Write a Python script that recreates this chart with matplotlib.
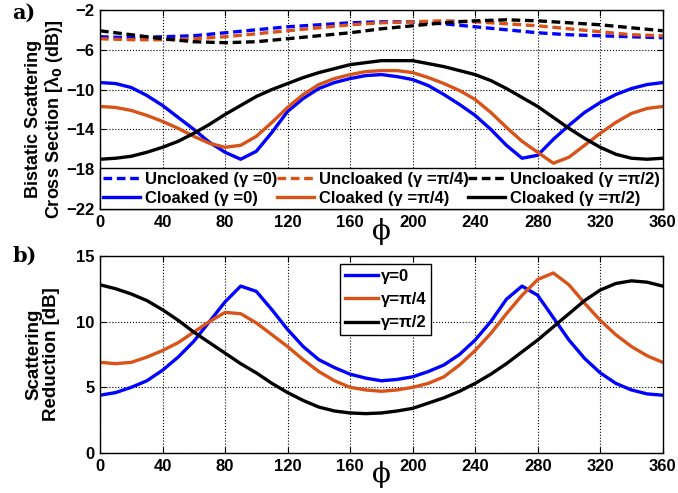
import numpy as np
import matplotlib.pyplot as plt

# ---- data ----
phi = np.arange(0, 361, 10)
phi_u = np.arange(0, 361, 20)

# (a) bistatic scattering cross section [dB]
unclk_g0 = [-4.7, -4.8, -4.7, -4.6, -4.3, -4.0, -3.7, -3.5, -3.3, -3.2,
            -3.2, -3.4, -3.7, -4.0, -4.3, -4.5, -4.6, -4.7, -4.8]
unclk_g4 = [-4.9, -5.0, -5.0, -4.9, -4.7, -4.4, -4.1, -3.8, -3.5, -3.3,
            -3.2, -3.1, -3.2, -3.4, -3.6, -3.9, -4.2, -4.5, -4.6]
unclk_g2 = [-4.1, -4.5, -4.9, -5.2, -5.3, -5.2, -4.9, -4.6, -4.3, -3.9,
            -3.6, -3.3, -3.1, -3.0, -3.1, -3.3, -3.5, -3.8, -4.1]

clk_g0 = [-9.3, -9.4, -9.8, -10.6, -11.6, -12.8, -14.0, -15.3, -16.3, -17.0,
          -16.2, -14.3, -12.2, -10.9, -9.9, -9.3, -8.9, -8.6, -8.5, -8.7,
          -9.0, -9.6, -10.5, -11.5, -12.6, -14.0, -15.6, -16.9, -16.6, -15.0,
          -13.6, -12.3, -11.3, -10.5, -9.9, -9.5, -9.3]
clk_g4 = [-11.7, -11.8, -12.1, -12.6, -13.2, -13.9, -14.7, -15.4, -15.8, -15.6,
          -14.7, -13.3, -11.8, -10.5, -9.5, -8.9, -8.5, -8.2, -8.1, -8.1,
          -8.3, -8.8, -9.4, -10.1, -11.0, -12.3, -13.8, -15.2, -16.3, -17.4,
          -16.8, -15.6, -14.4, -13.3, -12.4, -11.9, -11.7]
clk_g2 = [-17.0, -16.9, -16.7, -16.3, -15.8, -15.2, -14.4, -13.5, -12.5, -11.6,
          -10.7, -10.0, -9.4, -8.8, -8.3, -7.9, -7.5, -7.3, -7.1, -7.1,
          -7.1, -7.4, -7.7, -8.1, -8.5, -9.1, -9.9, -10.8, -11.7, -12.8,
          -13.9, -14.9, -15.8, -16.5, -16.9, -17.0, -16.9]

# (b) scattering reduction [dB]
red_g0 = [4.4, 4.6, 5.0, 5.5, 6.3, 7.3, 8.5, 10.0, 11.5, 12.7,
          12.3, 10.9, 9.4, 8.1, 7.1, 6.5, 6.0, 5.7, 5.5, 5.6,
          5.8, 6.2, 6.7, 7.5, 8.6, 10.0, 11.7, 12.7, 12.0, 10.3,
          8.6, 7.2, 6.1, 5.3, 4.8, 4.5, 4.4]
red_g4 = [6.9, 6.8, 6.9, 7.3, 7.8, 8.4, 9.2, 10.0, 10.7, 10.6,
          9.9, 9.0, 8.1, 7.1, 6.2, 5.5, 5.0, 4.8, 4.7, 4.8,
          5.0, 5.3, 5.8, 6.7, 7.8, 9.1, 10.6, 12.0, 13.2, 13.7,
          12.8, 11.4, 10.1, 9.0, 8.1, 7.4, 6.9]
red_g2 = [12.8, 12.5, 12.1, 11.6, 10.9, 10.1, 9.2, 8.4, 7.6, 6.8,
          6.1, 5.3, 4.6, 4.0, 3.5, 3.2, 3.05, 3.0, 3.05, 3.2,
          3.4, 3.8, 4.2, 4.7, 5.3, 6.0, 6.8, 7.7, 8.6, 9.6,
          10.6, 11.6, 12.4, 12.9, 13.1, 13.0, 12.7]

labels_g = ['0', 'π/4', 'π/2']
xticks = np.arange(0, 361, 40)

# ---- style ----
blue = '#0000FF'
orange = '#D95319'
black = '#000000'
colors = [blue, orange, black]
lw = 2.4
plt.rcParams['font.family'] = ['Liberation Sans', 'DejaVu Sans']
plt.rcParams['font.weight'] = 'bold'
plt.rcParams['axes.labelweight'] = 'bold'
plt.rcParams['font.size'] = 12
plt.rcParams['mathtext.default'] = 'bf'

fig = plt.figure(figsize=(6.78, 4.93), dpi=100)
ax1 = fig.add_axes([0.1475, 0.576, 0.830, 0.404])
ax2 = fig.add_axes([0.1475, 0.081, 0.830, 0.400])

# top panel
unclk = [unclk_g0, unclk_g4, unclk_g2]
clk = [clk_g0, clk_g4, clk_g2]
for c, u, cl, g in zip(colors, unclk, clk, labels_g):
    ax1.plot(phi_u, u, color=c, lw=lw, dashes=(2.6, 1.4),
             label='Uncloaked (γ =%s)' % g)
    ax1.plot(phi, cl, color=c, lw=lw, label='Cloaked (γ =%s)' % g)

ax1.set_xlim(0, 360)
ax1.set_ylim(-22, -2)
ax1.set_yticks(np.arange(-22, -1, 4))
ax1.set_xticks(xticks)
ax1.set_xlabel('ϕ', family='DejaVu Serif', fontsize=20, fontweight='normal',
               labelpad=-8)
ax1.set_ylabel('Bistatic Scattering\nCross Section [λ$_0$ (dB)]',
               fontsize=13, linespacing=1.05)
ax1.yaxis.set_label_coords(-0.062, 0.45)
leg1 = ax1.legend(ncol=3, loc='lower left', bbox_to_anchor=(0, 0, 1, 0.2),
                  mode='expand', fontsize=12, frameon=True, fancybox=False,
                  borderpad=0.2, labelspacing=0.25, handlelength=2.2,
                  handletextpad=0.3, columnspacing=0.3, borderaxespad=0)
leg1.get_frame().set_edgecolor('black')
leg1.get_frame().set_linewidth(1.0)
leg1.get_frame().set_alpha(1)

# bottom panel
reds = [red_g0, red_g4, red_g2]
for c, r, g in zip(colors, reds, labels_g):
    ax2.plot(phi, r, color=c, lw=lw, label='γ=%s' % g)

ax2.set_xlim(0, 360)
ax2.set_ylim(0, 15)
ax2.set_yticks([0, 5, 10, 15])
ax2.set_xticks(xticks)
ax2.set_xlabel('ϕ', family='DejaVu Serif', fontsize=20, fontweight='normal',
               labelpad=-9)
ax2.set_ylabel('Scattering\nReduction [dB]', fontsize=13.5, linespacing=1.05)
ax2.yaxis.set_label_coords(-0.071, 0.5)
leg2 = ax2.legend(loc='upper left', bbox_to_anchor=(0.426, 0.96),
                  fontsize=12, frameon=True, fancybox=False, borderpad=0.3,
                  labelspacing=0.5, handlelength=2.0, handletextpad=0.15,
                  borderaxespad=0)
leg2.get_frame().set_edgecolor('black')
leg2.get_frame().set_linewidth(1.0)
leg2.get_frame().set_alpha(1)

for ax in (ax1, ax2):
    ax.grid(True, color='black', linestyle=':', linewidth=0.8)
    ax.tick_params(direction='in', length=4, labelsize=12, top=True,
                   right=True, pad=4)
    for lab in ax.get_xticklabels() + ax.get_yticklabels():
        lab.set_fontweight('bold')
    for s in ax.spines.values():
        s.set_linewidth(1.0)

fig.text(0.018, 0.974, 'a)', family='DejaVu Serif', fontsize=15,
         fontweight='bold', va='center')
fig.text(0.018, 0.482, 'b)', family='DejaVu Serif', fontsize=15,
         fontweight='bold', va='center')

fig.savefig('out.png', dpi=100)
